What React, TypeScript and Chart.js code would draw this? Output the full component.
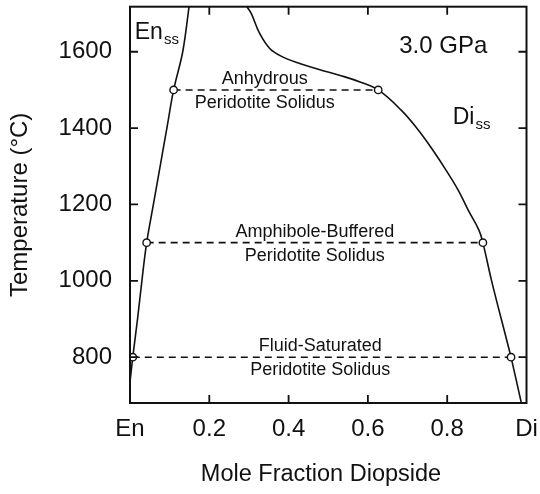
import React, { useEffect, useRef } from "react";
import { Chart, registerables } from "chart.js";

Chart.register(...registerables);

// Axis ticks
const xTicks = [0, 0.2, 0.4, 0.6, 0.8, 1.0];
const xTickLabels = ["En", "0.2", "0.4", "0.6", "0.8", "Di"];
const yTicks = [800, 1000, 1200, 1400, 1600];

// Enstatite solid-solution limb (mole fraction Di, temperature °C)
const enssX = [0, 0.007, 0.019, 0.030, 0.042, 0.059, 0.076, 0.093, 0.110, 0.133, 0.149];
const enssT = [735, 800, 900, 1000, 1100, 1200, 1300, 1400, 1500, 1600, 1718];

// Diopside solid-solution limb
const dissX = [0.295, 0.306, 0.327, 0.353, 0.386, 0.428, 0.479, 0.530, 0.580, 0.626, 0.684, 0.727, 0.764, 0.797, 0.828, 0.853, 0.880, 0.890, 0.912, 0.950, 0.961, 0.987];
const dissT = [1718, 1700, 1648, 1608, 1586, 1569, 1553, 1538, 1521, 1500, 1447, 1395, 1342, 1290, 1237, 1185, 1133, 1100, 1000, 845, 800, 680];

// Peridotite solidi (tie lines)
const solidusT = [1500, 1100, 800];
const solidusLeftX = [0.110, 0.042, 0.007];
const solidusRightX = [0.626, 0.890, 0.961];
const solidusTopText = ["Anhydrous", "Amphibole-Buffered", "Fluid-Saturated"];
const solidusBottomText = ["Peridotite Solidus", "Peridotite Solidus", "Peridotite Solidus"];
const solidusLabelX = [0.34, 0.466, 0.48];

const xTitle = "Mole Fraction Diopside";
const yTitle = "Temperature (°C)";

const FONT = "'Liberation Sans', Arial, Helvetica, sans-serif";
const INK = "#111";

const framePlugin = {
  id: "frameAndLabels",
  afterDatasetsDraw(chart: any) {
    const { ctx, chartArea, scales } = chart;
    const xs = scales.x;
    const ys = scales.y;
    ctx.save();
    // solidus labels
    ctx.fillStyle = INK;
    ctx.textAlign = "center";
    ctx.textBaseline = "alphabetic";
    ctx.font = `18px ${FONT}`;
    for (let i = 0; i < solidusT.length; i++) {
      const px = xs.getPixelForValue(solidusLabelX[i]);
      const py = ys.getPixelForValue(solidusT[i]);
      ctx.fillText(solidusTopText[i], px, py - 6);
      ctx.fillText(solidusBottomText[i], px, py + 18);
    }
    // phase labels
    ctx.textAlign = "left";
    ctx.font = `23px ${FONT}`;
    let px = xs.getPixelForValue(0.012);
    let py = ys.getPixelForValue(1634);
    ctx.fillText("En", px, py);
    let w = ctx.measureText("En").width;
    ctx.font = `15px ${FONT}`;
    ctx.fillText("ss", px + w + 1, py + 5);

    ctx.font = `23px ${FONT}`;
    px = xs.getPixelForValue(0.814);
    py = ys.getPixelForValue(1412);
    ctx.fillText("Di", px, py);
    w = ctx.measureText("Di").width;
    ctx.font = `15px ${FONT}`;
    ctx.fillText("ss", px + w + 1, py + 5);

    ctx.font = `24px ${FONT}`;
    ctx.textAlign = "center";
    ctx.fillText("3.0 GPa", xs.getPixelForValue(0.79), ys.getPixelForValue(1596));

    // x-axis title
    ctx.font = `23.5px ${FONT}`;
    ctx.textBaseline = "middle";
    ctx.fillText(xTitle, 321, 475);

    // inward ticks
    ctx.strokeStyle = INK;
    ctx.lineWidth = 1.8;
    const L = 8;
    ctx.beginPath();
    for (const v of xTicks) {
      if (v <= 0 || v >= 1) continue;
      const x = xs.getPixelForValue(v);
      ctx.moveTo(x, chartArea.bottom);
      ctx.lineTo(x, chartArea.bottom - L);
      ctx.moveTo(x, chartArea.top);
      ctx.lineTo(x, chartArea.top + L);
    }
    for (const v of yTicks) {
      const y = ys.getPixelForValue(v);
      ctx.moveTo(chartArea.left, y);
      ctx.lineTo(chartArea.left + L, y);
      ctx.moveTo(chartArea.right, y);
      ctx.lineTo(chartArea.right - L, y);
    }
    ctx.stroke();
    // frame
    ctx.lineWidth = 2;
    ctx.strokeRect(chartArea.left, chartArea.top, chartArea.right - chartArea.left, chartArea.bottom - chartArea.top);
    ctx.restore();
  },
};

export default function App() {
  const ref = useRef<HTMLCanvasElement | null>(null);
  useEffect(() => {
    document.body.style.margin = "0";
    const canvas = ref.current;
    if (!canvas) return;
    const pts = (xa: number[], ya: number[]) => xa.map((x, i) => ({ x, y: ya[i] }));
    const markers = [
      ...pts(solidusLeftX, solidusT),
      ...pts(solidusRightX, solidusT),
    ];
    const tieLines = solidusT.map((t, i) => ({
      data: [
        { x: solidusLeftX[i], y: t },
        { x: solidusRightX[i], y: t },
      ],
      showLine: true,
      borderColor: INK,
      borderWidth: 1.6,
      borderDash: [7, 5],
      pointRadius: 0,
    }));
    const chart = new Chart(canvas, {
      type: "scatter",
      data: {
        datasets: [
          {
            data: markers,
            showLine: false,
            pointRadius: 3.7,
            pointBackgroundColor: "#fff",
            pointBorderColor: INK,
            pointBorderWidth: 1.4,
          },
          {
            data: pts(enssX, enssT),
            showLine: true,
            borderColor: INK,
            borderWidth: 1.6,
            pointRadius: 0,
            tension: 0.35,
          },
          {
            data: pts(dissX, dissT),
            showLine: true,
            borderColor: INK,
            borderWidth: 1.6,
            pointRadius: 0,
            tension: 0.4,
          },
          ...tieLines,
        ] as any,
      },
      options: {
        animation: false,
        responsive: true,
        maintainAspectRatio: false,
        layout: { padding: { left: 0, right: 13.5, top: 6.7, bottom: 0 } },
        plugins: { legend: { display: false }, tooltip: { enabled: false } },
        scales: {
          x: {
            type: "linear",
            min: 0,
            max: 1,
            grid: { display: false, drawTicks: false },
            border: { display: false },
            afterBuildTicks: (s: any) => {
              s.ticks = xTicks.map((v) => ({ value: v }));
            },
            afterFit: (s: any) => {
              s.height = 91;
              s.paddingLeft = 0;
              s.paddingRight = 0;
            },
            ticks: {
              callback: (_v: any, i: number) => xTickLabels[i],
              font: { family: FONT, size: 24 },
              color: INK,
              padding: 12,
              maxRotation: 0,
              autoSkip: false,
            },
            title: { display: false },
          },
          y: {
            type: "linear",
            min: 680,
            max: 1718,
            grid: { display: false, drawTicks: false },
            border: { display: false },
            afterBuildTicks: (s: any) => {
              s.ticks = yTicks.map((v) => ({ value: v }));
            },
            afterFit: (s: any) => {
              s.width = 130;
              s.paddingTop = 0;
              s.paddingBottom = 0;
            },
            ticks: {
              callback: (v: any) => String(v),
              font: { family: FONT, size: 24 },
              color: INK,
              padding: 18,
              autoSkip: false,
            },
            title: {
              display: true,
              text: yTitle,
              font: { family: FONT, size: 24 },
              color: INK,
              padding: { top: 5.6, bottom: 0 },
            },
          },
        },
      } as any,
      plugins: [framePlugin],
    });
    return () => chart.destroy();
  }, []);
  return (
    <div style={{ position: "fixed", left: 0, top: 0, width: 540, height: 494, background: "#fff" }}>
      <canvas ref={ref} />
    </div>
  );
}
